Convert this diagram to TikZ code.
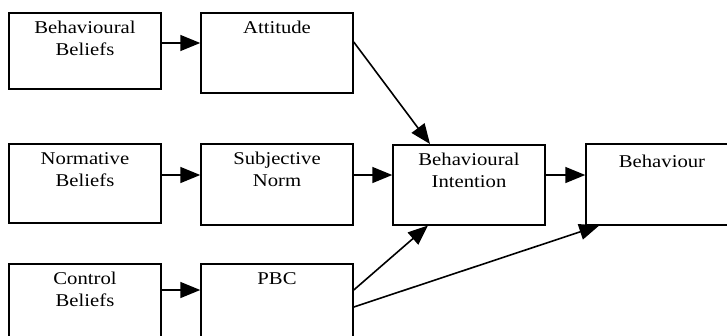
\documentclass[tikz,border=0pt]{standalone}
\usepackage{fontspec}
\setmainfont{Liberation Serif}[FakeStretch=1.15]
\usetikzlibrary{arrows.meta}

\begin{document}
\begin{tikzpicture}[x=1pt, y=-1pt,
        box/.style={draw, line width=1.5pt, anchor=north, minimum width=152pt, inner sep=0pt},
        txt/.style={anchor=north, align=center, inner sep=0pt, yshift=-9pt, font=\fontsize{18}{22}\selectfont},
        arr/.style={line width=1.6pt, -{Triangle[length=20pt, width=16pt]}}]
        \useasboundingbox (0,0) rectangle (727,335);

        % Beliefs
        \node[box, minimum height=76pt, label={[txt]north:{Behavioural\\Beliefs}}] (bb) at (85,12) {};
        \node[box, minimum height=79pt, label={[txt]north:{Normative\\Beliefs}}] (nb) at (85,143) {};
        \node[box, minimum height=80pt, label={[txt]north:{Control\\Beliefs}}] (cb) at (85,263) {};

        % Attitude, norm and PBC
        \node[box, minimum height=80pt, label={[txt]north:{Attitude}}] (att) at (277,12) {};
        \node[box, minimum height=81pt, label={[txt]north:{Subjective\\Norm}}] (sn) at (277,143) {};
        \node[box, minimum height=80pt, label={[txt]north:{PBC}}] (pbc) at (277,263) {};

        % Intention and behaviour
        \node[box, minimum height=80pt, label={[txt]north:{Behavioural\\Intention}}] (bi) at (469,144) {};
        \node[box, minimum height=81pt, label={[txt, yshift=-3pt]north:{Behaviour}}] (beh) at (662,143) {};

        % Arrows
        \draw[arr] ([yshift=-31pt]bb.north east) -- ([yshift=-31pt]att.north west);
        \draw[arr] ([yshift=-32pt]nb.north east) -- ([yshift=-32pt]sn.north west);
        \draw[arr] ([yshift=-27pt]cb.north east) -- ([yshift=-27pt]pbc.north west);
        \draw[arr] ([yshift=-32pt]sn.north east) -- ([yshift=-31pt]bi.north west);
        \draw[arr] ([yshift=-31pt]bi.north east) -- ([yshift=-32pt]beh.north west);
        \draw[arr] ([yshift=-30pt]att.north east) -- ([xshift=-39pt]bi.north);
        \draw[arr] ([yshift=-27pt]pbc.north east) -- ([xshift=-41pt]bi.south);
        \draw[arr] ([yshift=-44pt]pbc.north east) -- ([xshift=14pt]beh.south west);
    \end{tikzpicture}
\end{document}
